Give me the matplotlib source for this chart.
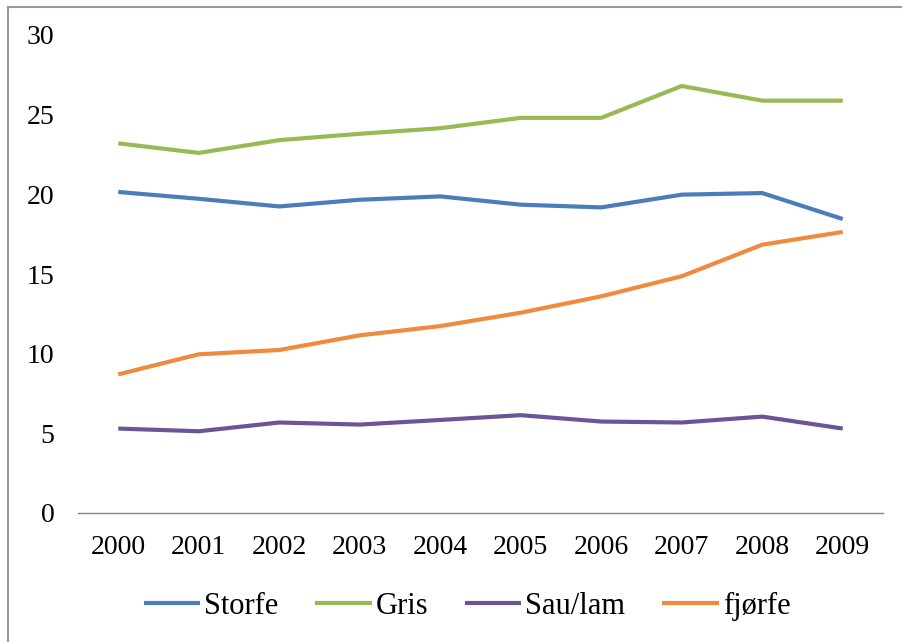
import matplotlib
matplotlib.use("Agg")
import matplotlib.pyplot as plt
from matplotlib.lines import Line2D

years = ["2000", "2001", "2002", "2003", "2004", "2005", "2006", "2007", "2008", "2009"]
storfe = [20.15, 19.72, 19.24, 19.66, 19.87, 19.35, 19.18, 19.98, 20.08, 18.45]
gris = [23.2, 22.6, 23.4, 23.8, 24.15, 24.8, 24.8, 26.8, 25.88, 25.88]
sau_lam = [5.3, 5.13, 5.68, 5.55, 5.84, 6.14, 5.74, 5.68, 6.05, 5.3]
fjorfe = [8.7, 9.96, 10.23, 11.15, 11.73, 12.57, 13.6, 14.86, 16.84, 17.64]
yticks = [0, 5, 10, 15, 20, 25, 30]

plt.rcParams['font.family'] = ['Liberation Serif', 'DejaVu Serif']

fig = plt.figure(figsize=(9.02, 6.42), dpi=100)
ax = fig.add_axes([78/902, 1 - 513/642, (883 - 78)/902, (513 - 35)/642])

x = list(range(len(years)))
series = [
    ("Storfe", storfe, "#4A7EBB"),
    ("Gris", gris, "#98B954"),
    ("Sau/lam", sau_lam, "#6B5597"),
    ("fjørfe", fjorfe, "#F08A3E"),
]
for name, vals, col in series:
    ax.plot(x, vals, color=col, lw=3.0, label=name, solid_capstyle='butt', solid_joinstyle='round')

ax.set_xlim(-0.5, 9.5)
ax.set_ylim(0, 30)
ax.set_xticks(x)
ax.set_xticklabels(years)
ax.set_yticks(yticks)
ax.set_yticklabels([str(v) for v in yticks])
for s in ["top", "right", "left"]:
    ax.spines[s].set_visible(False)
ax.spines["bottom"].set_color("#868686")
ax.spines["bottom"].set_linewidth(1.0)
ax.tick_params(axis='x', length=0, pad=16, labelsize=20)
ax.tick_params(axis='y', length=0, pad=17, labelsize=20)

leg = fig.legend(loc='center', bbox_to_anchor=(467/902, 1 - 606/642), ncol=4, frameon=False,
                 fontsize=22, handlelength=1.85, handletextpad=0.13, columnspacing=1.2)

# outer frame (top and left visible)
fig.add_artist(Line2D([8/902, 8/902], [0, 1 - 7/642], transform=fig.transFigure, color="#9A9A9A", lw=1.5))
fig.add_artist(Line2D([8/902, 1], [1 - 7/642, 1 - 7/642], transform=fig.transFigure, color="#9A9A9A", lw=1.5))

fig.savefig("out.png", dpi=100)
